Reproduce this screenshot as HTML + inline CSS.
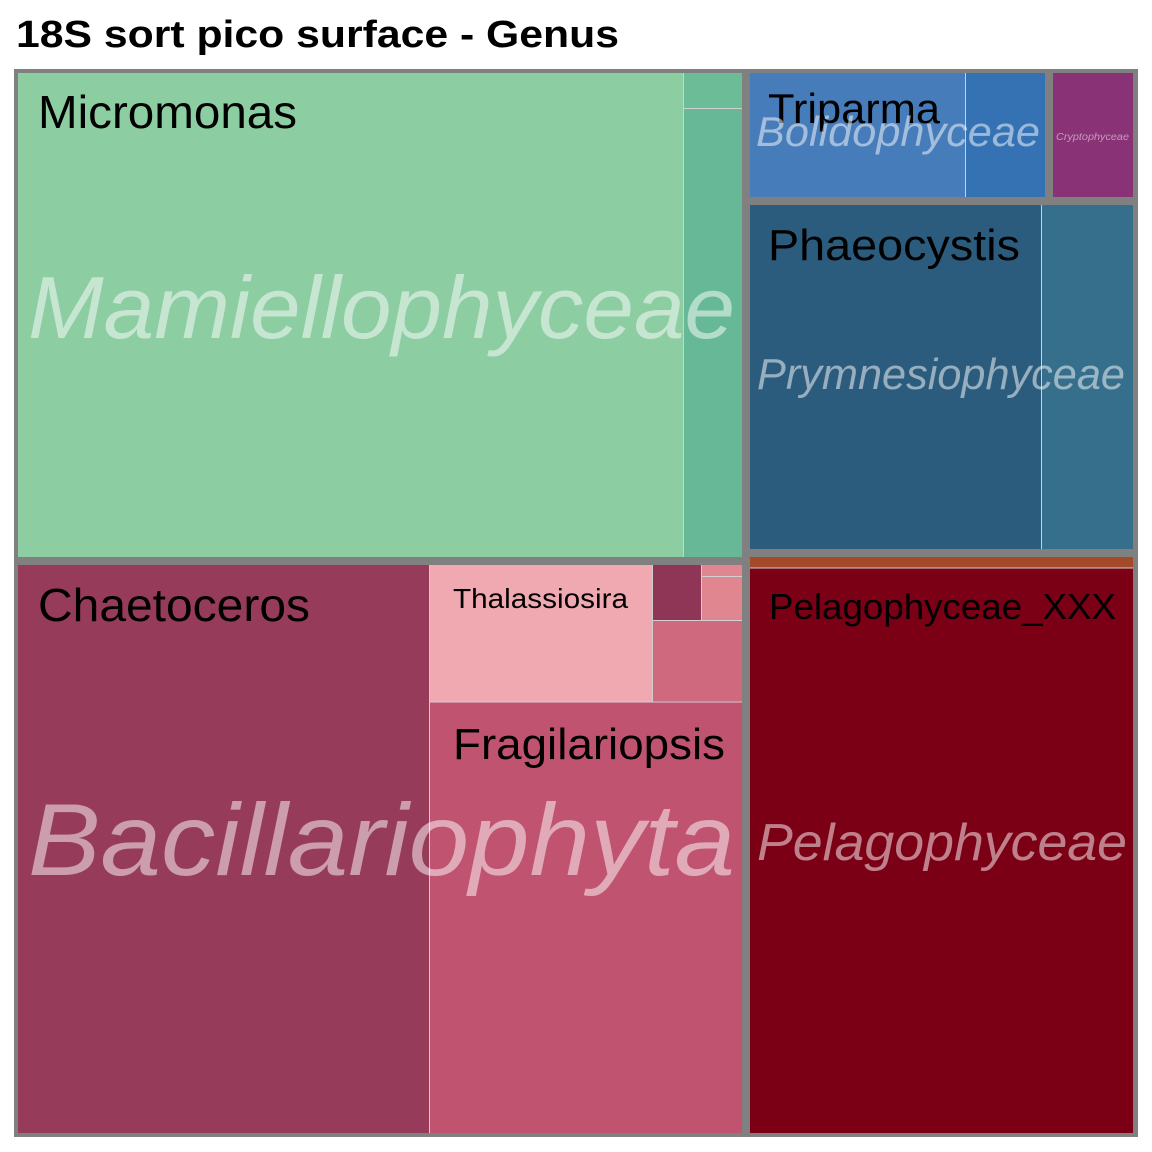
<!DOCTYPE html>
<html><head><meta charset="utf-8"><style>
body{margin:0;background:#fff;width:1152px;height:1152px;overflow:hidden}
svg{position:absolute;left:0;top:0}
</style></head><body>
<svg width="1152" height="1152" font-family="Liberation Sans, sans-serif">
<text x="16" y="47" font-size="38" font-weight="bold" textLength="603" lengthAdjust="spacingAndGlyphs">18S sort pico surface - Genus</text>
<rect x="14" y="69" width="1124" height="1068" fill="#808080"/>
<g>
<rect x="18" y="73" width="665" height="484" fill="#8ccda2"/>
<rect x="683" y="73" width="59" height="35" fill="#6cbc98"/>
<rect x="683" y="108" width="59" height="449" fill="#66b896"/>
<rect x="18" y="565" width="411" height="568" fill="#973b5a"/>
<rect x="429" y="565" width="223" height="137" fill="#f0a9b0"/>
<rect x="652" y="565" width="50" height="55" fill="#8f3555"/>
<rect x="702" y="565" width="40" height="11" fill="#df8690"/>
<rect x="702" y="576" width="40" height="44" fill="#df8690"/>
<rect x="652" y="620" width="90" height="81" fill="#cf6a7e"/>
<rect x="429" y="702" width="313" height="431" fill="#c05470"/>
<rect x="750" y="73" width="215" height="124" fill="#477cba"/>
<rect x="965" y="73" width="80" height="124" fill="#3472b4"/>
<rect x="1053" y="73" width="80" height="124" fill="#893276"/>
<rect x="750" y="205" width="291" height="344" fill="#2c5c7d"/>
<rect x="1041" y="205" width="92" height="344" fill="#366f8c"/>
<rect x="750" y="557" width="383" height="11" fill="#a34a28"/>
<rect x="750" y="568" width="383" height="565" fill="#7c0015"/>
</g>
<g stroke="#d0d0d0" stroke-width="1">
<line x1="683.5" y1="73" x2="683.5" y2="557"/>
<line x1="683" y1="108.5" x2="742" y2="108.5"/>
<line x1="429.5" y1="565" x2="429.5" y2="1133"/>
<line x1="429" y1="702" x2="742" y2="702"/>
<line x1="652.5" y1="565" x2="652.5" y2="702"/>
<line x1="652" y1="620.5" x2="742" y2="620.5"/>
<line x1="701.5" y1="565" x2="701.5" y2="620"/>
<line x1="702" y1="576.5" x2="742" y2="576.5"/>
<line x1="965.5" y1="73" x2="965.5" y2="197"/>
<line x1="1041.5" y1="205" x2="1041.5" y2="549"/>
<line x1="750" y1="568" x2="1133" y2="568"/>
</g>
<g fill="#000">
<text x="38" y="128" font-size="46" textLength="259" lengthAdjust="spacingAndGlyphs">Micromonas</text>
<text x="768" y="123" font-size="42" textLength="172" lengthAdjust="spacingAndGlyphs">Triparma</text>
<text x="768" y="260" font-size="44" textLength="252" lengthAdjust="spacingAndGlyphs">Phaeocystis</text>
<text x="38" y="621" font-size="46" textLength="272" lengthAdjust="spacingAndGlyphs">Chaetoceros</text>
<text x="453" y="608" font-size="28" textLength="175" lengthAdjust="spacingAndGlyphs">Thalassiosira</text>
<text x="453" y="759" font-size="44" textLength="272" lengthAdjust="spacingAndGlyphs">Fragilariopsis</text>
<text x="769" y="619" font-size="36" textLength="347" lengthAdjust="spacingAndGlyphs">Pelagophyceae_XXX</text>
</g>
<g fill="#ffffff" fill-opacity="0.5" font-style="italic">
<text x="28" y="338" font-size="88" textLength="707" lengthAdjust="spacingAndGlyphs">Mamiellophyceae</text>
<text x="756" y="146" font-size="42" textLength="284" lengthAdjust="spacingAndGlyphs">Bolidophyceae</text>
<text x="1056" y="140" font-size="10" textLength="73" lengthAdjust="spacingAndGlyphs">Cryptophyceae</text>
<text x="757" y="389" font-size="44" textLength="368" lengthAdjust="spacingAndGlyphs">Prymnesiophyceae</text>
<text x="28" y="875" font-size="102" textLength="707" lengthAdjust="spacingAndGlyphs">Bacillariophyta</text>
<text x="757" y="860" font-size="52" textLength="370" lengthAdjust="spacingAndGlyphs">Pelagophyceae</text>
</g>
</svg>
</body></html>
